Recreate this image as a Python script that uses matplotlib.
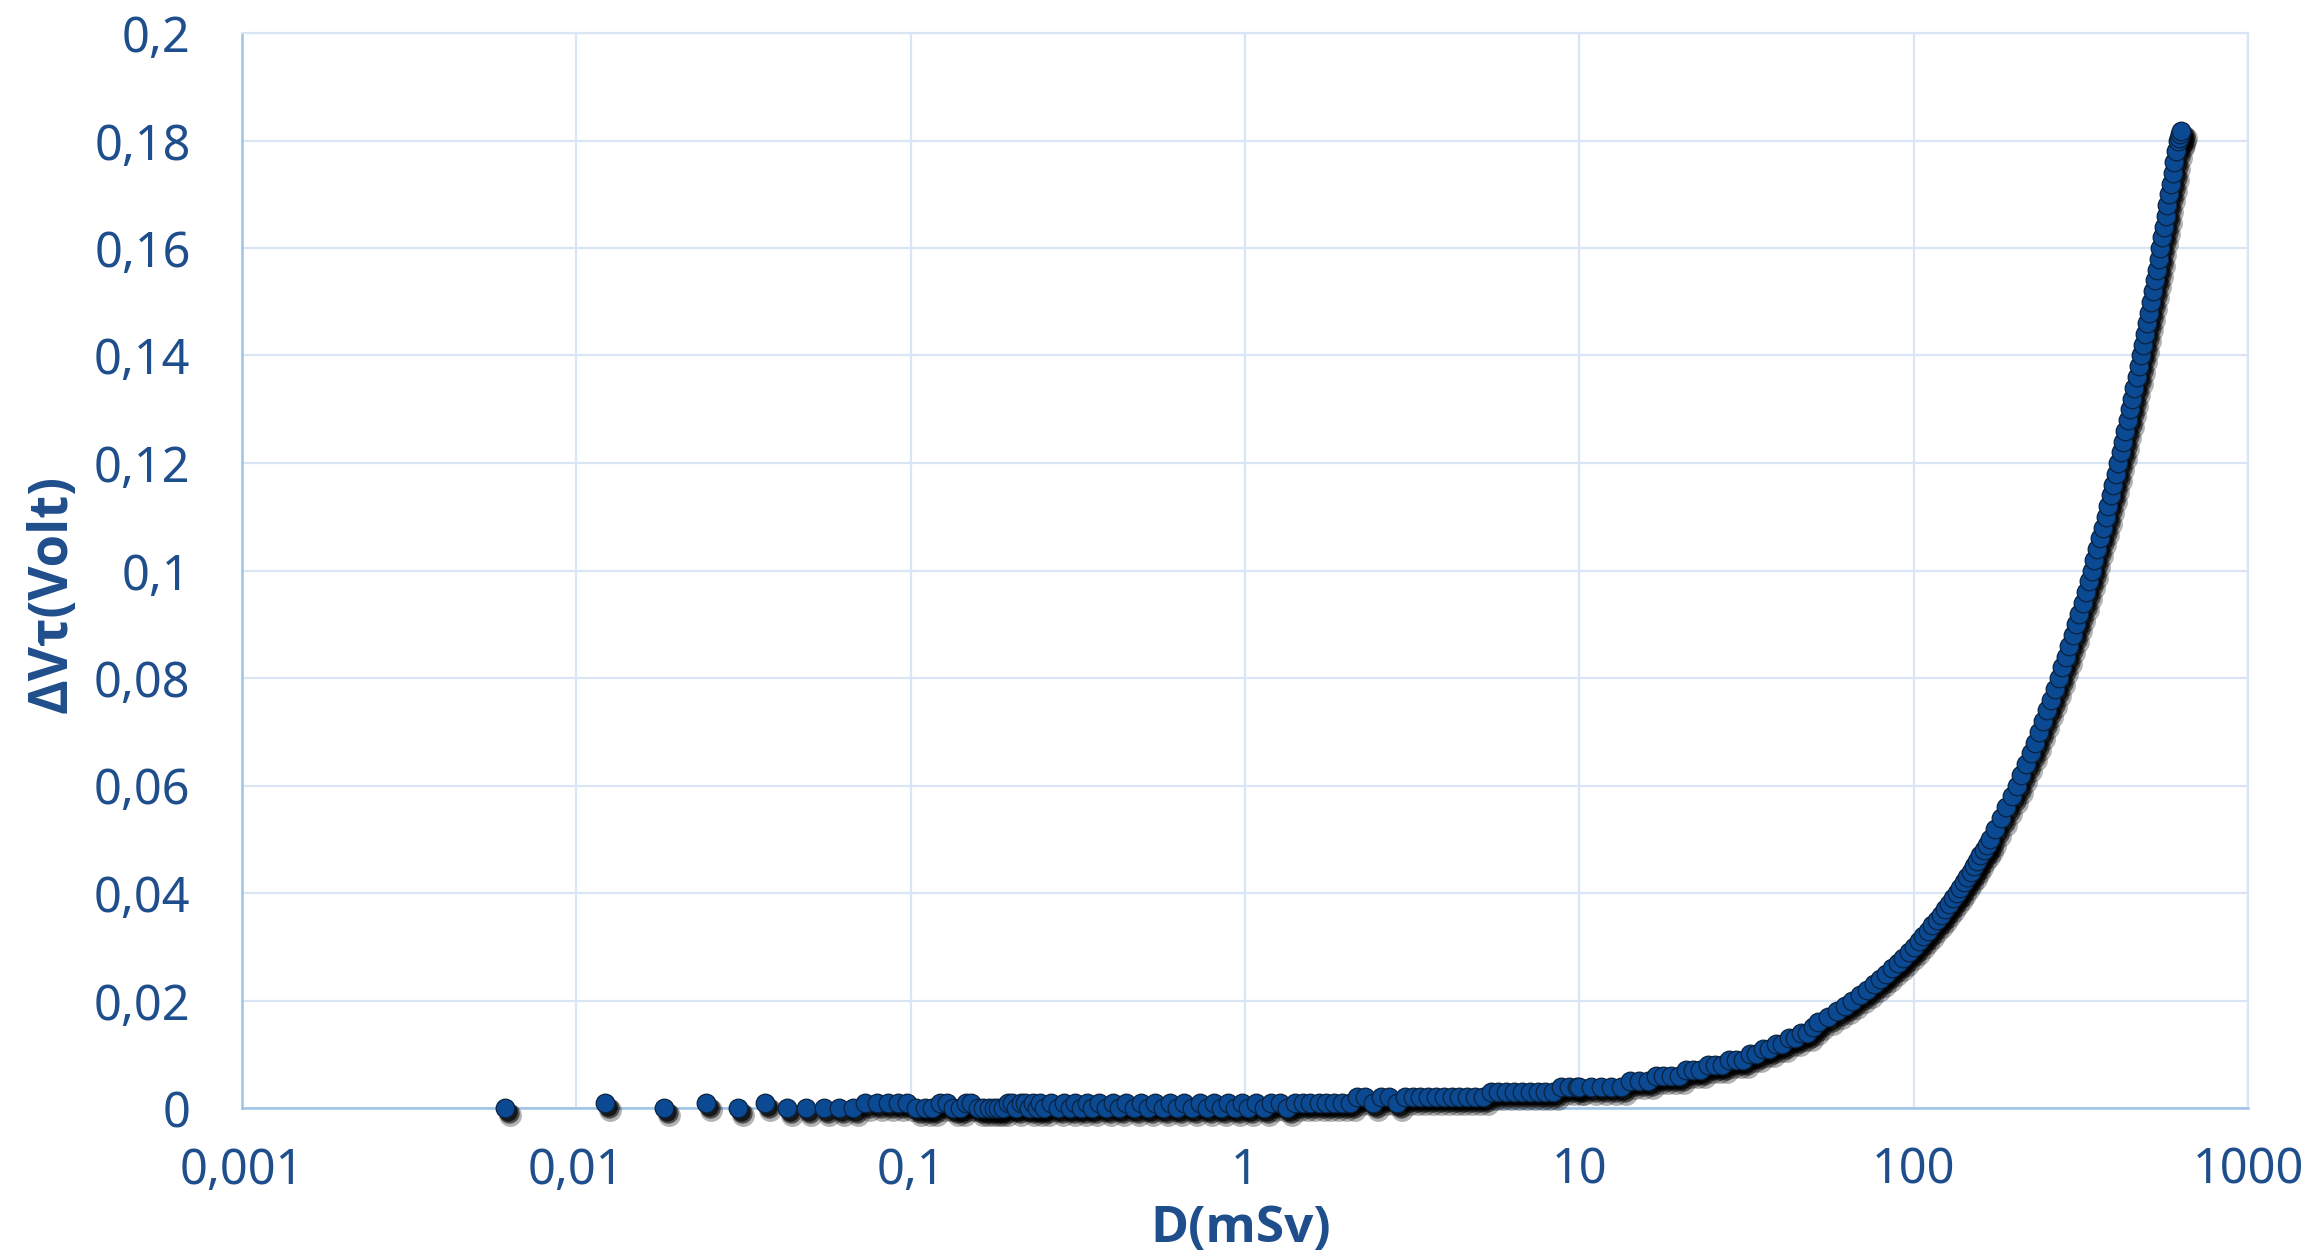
import matplotlib.pyplot as plt
import matplotlib.transforms as mtransforms

# dose (mSv) and threshold-voltage shift (V)
dose_low = [0.0061, 0.0122, 0.0183, 0.0244, 0.0305, 0.0366, 0.0427, 0.0488,
            0.0549, 0.061, 0.0671, 0.0732, 0.0793, 0.0854, 0.0915, 0.0976]
dv_low = [0.0, 0.001, 0.0, 0.001, 0.0, 0.001, 0.0, 0.0,
          0.0, 0.0, 0.0, 0.001, 0.001, 0.001, 0.001, 0.001]

dose_sub1 = [0.104, 0.110, 0.116, 0.122, 0.128, 0.134, 0.140, 0.146, 0.152, 0.159,
             0.165, 0.171, 0.177, 0.183, 0.189, 0.195, 0.201, 0.207, 0.214, 0.220,
             0.226, 0.232, 0.238, 0.244, 0.250, 0.262, 0.275, 0.287, 0.299, 0.311,
             0.323, 0.336, 0.348, 0.366, 0.384, 0.403, 0.421, 0.440, 0.464, 0.488,
             0.513, 0.537, 0.567, 0.598, 0.628, 0.659, 0.695, 0.732, 0.769, 0.806,
             0.848, 0.891, 0.934, 0.977]
dv_sub1 = [0.0, 0.0, 0.0, 0.001, 0.001, 0.0, 0.0, 0.001, 0.001, 0.0,
           0.0, 0.0, 0.0, 0.0, 0.0, 0.001, 0.001, 0.0, 0.001, 0.001,
           0.0, 0.001, 0.0, 0.001, 0.0, 0.001, 0.0, 0.001, 0.0, 0.001,
           0.0, 0.001, 0.0, 0.001, 0.0, 0.001, 0.0, 0.001, 0.0, 0.001,
           0.0, 0.001, 0.0, 0.001, 0.0, 0.001, 0.0, 0.001, 0.0, 0.001,
           0.0, 0.001, 0.0, 0.001]

dose_1_10 = [1.02, 1.08, 1.14, 1.20, 1.27, 1.34, 1.41, 1.49, 1.57, 1.66,
             1.75, 1.85, 1.95, 2.06, 2.17, 2.29, 2.42, 2.55, 2.69, 2.84,
             3.00, 3.17, 3.34, 3.53, 3.72, 3.93, 4.15, 4.38, 4.62, 4.87,
             5.14, 5.43, 5.73, 6.05, 6.38, 6.74, 7.11, 7.50, 7.92, 8.36,
             8.82, 9.31, 9.82]
dv_1_10 = [0.0, 0.001, 0.0, 0.001, 0.001, 0.0, 0.001, 0.001, 0.001, 0.001,
           0.001, 0.001, 0.001, 0.001, 0.002, 0.002, 0.001, 0.002, 0.002, 0.001,
           0.002, 0.002, 0.002, 0.002, 0.002, 0.002, 0.002, 0.002, 0.002, 0.002,
           0.002, 0.003, 0.003, 0.003, 0.003, 0.003, 0.003, 0.003, 0.003, 0.003,
           0.004, 0.004, 0.004]

dose_10_50 = [10.0, 10.8, 11.6, 12.4, 13.3, 14.2, 15.1, 16.0, 16.9, 17.8,
              18.8, 19.8, 20.8, 21.9, 23.0, 24.2, 25.4, 26.7, 28.0, 29.4,
              30.8, 32.3, 33.8, 35.4, 37.0, 38.7, 40.5, 42.3, 44.2, 46.1,
              48.0, 50.0]
dv_10_50 = [0.004, 0.004, 0.004, 0.004, 0.004, 0.005, 0.005, 0.005, 0.006, 0.006,
            0.006, 0.006, 0.007, 0.007, 0.007, 0.008, 0.008, 0.008, 0.009, 0.009,
            0.009, 0.010, 0.010, 0.011, 0.011, 0.012, 0.012, 0.013, 0.013, 0.014,
            0.014, 0.015]

dose_high = [51.9, 55.3, 58.8, 62.2, 65.6, 69.1, 72.5, 75.9, 79.4, 82.8,
             86.3, 89.7, 93.1, 96.6, 100.0, 103.4, 106.9, 110.3, 113.7, 117.2,
             120.6, 124.1, 127.5, 130.9, 134.4, 137.8, 141.2, 144.7, 148.1, 151.5,
             155.0, 158.4, 161.9, 165.3, 168.7,
             175.6, 182.5, 189.3, 196.2, 203.1, 210.0, 216.8, 223.7, 230.6, 237.5,
             244.3, 251.2, 258.1, 265.0, 271.8, 278.7, 285.6, 292.4, 299.3, 306.2,
             313.1, 319.9, 326.8, 333.7, 340.5, 347.4, 354.3, 361.2, 368.0, 374.9,
             381.8, 388.7, 395.5, 402.4, 409.3, 416.2, 423.0, 429.9, 436.8, 443.6,
             450.5, 457.4, 464.3, 471.1, 478.0, 484.9, 491.8, 498.6, 505.5, 512.4,
             519.2, 526.1, 533.0, 539.9, 546.7, 553.6, 560.5, 567.4, 574.2, 581.1,
             588.0, 594.8, 601.7, 608.6, 615.5, 621.0, 626.0, 630.0]
dv_high = [0.016, 0.017, 0.018, 0.019, 0.020, 0.021, 0.022, 0.023, 0.024, 0.025,
           0.026, 0.027, 0.028, 0.029, 0.030, 0.031, 0.032, 0.033, 0.034, 0.035,
           0.036, 0.037, 0.038, 0.039, 0.040, 0.041, 0.042, 0.043, 0.044, 0.045,
           0.046, 0.047, 0.048, 0.049, 0.050,
           0.052, 0.054, 0.056, 0.058, 0.060, 0.062, 0.064, 0.066, 0.068, 0.070,
           0.072, 0.074, 0.076, 0.078, 0.080, 0.082, 0.084, 0.086, 0.088, 0.090,
           0.092, 0.094, 0.096, 0.098, 0.100, 0.102, 0.104, 0.106, 0.108, 0.110,
           0.112, 0.114, 0.116, 0.118, 0.120, 0.122, 0.124, 0.126, 0.128, 0.130,
           0.132, 0.134, 0.136, 0.138, 0.140, 0.142, 0.144, 0.146, 0.148, 0.150,
           0.152, 0.154, 0.156, 0.158, 0.160, 0.162, 0.164, 0.166, 0.168, 0.170,
           0.172, 0.174, 0.176, 0.178, 0.180, 0.1805, 0.1812, 0.1818]

x_ticks = [0.001, 0.01, 0.1, 1, 10, 100, 1000]
x_tick_labels = ["0,001", "0,01", "0,1", "1", "10", "100", "1000"]
y_ticks = [0, 0.02, 0.04, 0.06, 0.08, 0.1, 0.12, 0.14, 0.16, 0.18, 0.2]
y_tick_labels = ["0", "0,02", "0,04", "0,06", "0,08", "0,1", "0,12", "0,14",
                 "0,16", "0,18", "0,2"]

dose = dose_low + dose_sub1 + dose_1_10 + dose_10_50 + dose_high
dv = dv_low + dv_sub1 + dv_1_10 + dv_10_50 + dv_high

text_color = "#1F4E8C"
marker_color = "#0B4A92"
grid_color = "#D9E5F5"
axis_color = "#9DC3E6"

plt.rcParams['font.family'] = ['Noto Sans', 'DejaVu Sans']

fig = plt.figure(figsize=(23.22, 12.59), dpi=100)
ax = fig.add_axes([242 / 2322, 1 - 1108 / 1259, (2248 - 242) / 2322, (1108 - 33) / 1259])

ax.set_xscale('log')
ax.set_xlim(0.001, 1000)
ax.set_ylim(0, 0.2)

# soft drop shadow under every marker
for dx, dy, a, s in [(5, -7, 0.3, 270), (4, -5, 0.55, 215), (3, -4, 0.7, 175)]:
    shadow = mtransforms.offset_copy(ax.transData, fig=fig, x=dx, y=dy, units='dots')
    ax.scatter(dose, dv, s=s, color='black', alpha=a, linewidths=0,
               transform=shadow, clip_on=False, zorder=3)

ax.scatter(dose, dv, s=180, facecolor=marker_color, edgecolor='#0A2240',
           linewidths=0.9, clip_on=False, zorder=4)

ax.set_xticks(x_ticks)
ax.set_xticklabels(x_tick_labels)
ax.set_yticks(y_ticks)
ax.set_yticklabels(y_tick_labels)
ax.minorticks_off()
ax.tick_params(axis='both', length=0, labelsize=35, labelcolor=text_color)
ax.tick_params(axis='x', pad=27)
ax.tick_params(axis='y', pad=37)

ax.grid(True, color=grid_color, linewidth=1.6, zorder=0)
ax.set_axisbelow(True)
for side in ['top', 'right']:
    ax.spines[side].set_color(grid_color)
    ax.spines[side].set_linewidth(1.6)
for side in ['left', 'bottom']:
    ax.spines[side].set_color(axis_color)
    ax.spines[side].set_linewidth(1.8)

label_font = ['Open Sans', 'DejaVu Sans']
fig.text(1241 / 2322, 1 - 1229 / 1259, "D(mSv)", ha='center', va='center',
         fontsize=37, fontweight='bold', color=text_color, family=label_font)
fig.text(52 / 2322, 1 - 594 / 1259, "ΔVτ(Volt)", ha='center', va='center',
         rotation=90, fontsize=38, fontweight='bold', color=text_color,
         family=label_font)

fig.savefig("out.png", dpi=100)
